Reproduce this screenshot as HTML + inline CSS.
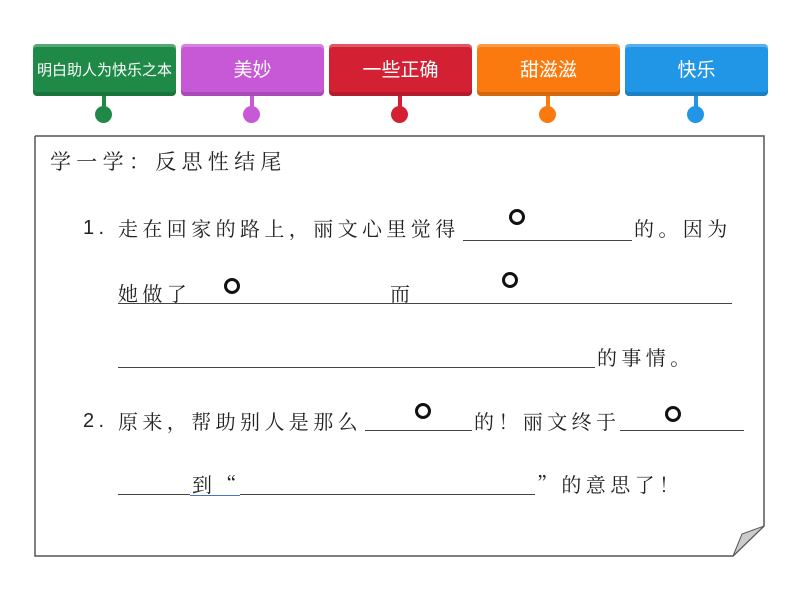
<!DOCTYPE html>
<html><head><meta charset="utf-8"><style>
body{margin:0;width:800px;height:600px;background:#fff;position:relative;overflow:hidden;font-family:"Noto Serif CJK SC","Liberation Serif",serif;}
.tab{position:absolute;top:44px;width:143px;height:52px;border-radius:4px;color:#fff;font-family:"Liberation Sans","Noto Sans CJK SC",sans-serif;font-size:19px;text-align:center;line-height:54px;box-shadow:inset 0 -4px 0 rgba(0,0,0,0.15),inset 0 3px 0 rgba(255,255,255,0.25);}
.stem{position:absolute;top:96px;width:4px;height:14px;}
.dot{position:absolute;top:106px;width:17px;height:17px;border-radius:50%;}
.t{position:absolute;font-size:20px;line-height:22px;letter-spacing:4.4px;color:#222;white-space:nowrap;font-family:"Noto Serif CJK SC",serif;}
.u{position:absolute;height:1px;background:#444;}
.c{position:absolute;width:10px;height:10px;border:3px solid #111;border-radius:50%;}
</style></head><body>
<div class="tab" style="left:33px;background:#1f8a48;font-size:15px;">明白助人为快乐之本</div>
<div class="tab" style="left:181px;background:#c759d6;">美妙</div>
<div class="tab" style="left:329px;background:#d42033;">一些正确</div>
<div class="tab" style="left:477px;background:#fb7a0f;">甜滋滋</div>
<div class="tab" style="left:625px;background:#2196e6;">快乐</div>
<div class="stem" style="left:102px;background:#1f8a48"></div><div class="dot" style="left:95px;background:#1f8a48"></div>
<div class="stem" style="left:250px;background:#c759d6"></div><div class="dot" style="left:243px;background:#c759d6"></div>
<div class="stem" style="left:398px;background:#d42033"></div><div class="dot" style="left:391px;background:#d42033"></div>
<div class="stem" style="left:546px;background:#fb7a0f"></div><div class="dot" style="left:539px;background:#fb7a0f"></div>
<div class="stem" style="left:694px;background:#2196e6"></div><div class="dot" style="left:687px;background:#2196e6"></div>

<svg style="position:absolute;left:0;top:0" width="800" height="600">
<polyline points="35,136 764,136 764,526 733,556 35,556 35,136" fill="none" stroke="#555" stroke-width="1.5"/>
<polygon points="764,526 733,556 742,534" fill="#ccc" stroke="#555" stroke-width="1"/>
</svg>

<div class="t" style="left:50px;top:150px;font-size:21px;letter-spacing:5.3px">学一学：反思性结尾</div>

<div class="t" style="left:83px;top:217px;font-family:'Liberation Sans',sans-serif">1.</div>
<div class="t" style="left:118px;top:217px">走在回家的路上，丽文心里觉得</div>
<div class="u" style="left:463px;top:240px;width:169px"></div>
<div class="t" style="left:634px;top:217px">的。因为</div>
<div class="c" style="left:509px;top:209px"></div>

<div class="t" style="left:118px;top:282px">她做了</div>
<div class="t" style="left:390px;top:282px">而</div>
<div class="u" style="left:118px;top:303px;width:614px"></div>
<div class="c" style="left:224px;top:278px"></div>
<div class="c" style="left:502px;top:272px"></div>

<div class="u" style="left:118px;top:367px;width:477px"></div>
<div class="t" style="left:597px;top:346px">的事情。</div>

<div class="t" style="left:83px;top:410px;font-family:'Liberation Sans',sans-serif">2.</div>
<div class="t" style="left:118px;top:410px">原来，帮助别人是那么</div>
<div class="u" style="left:365px;top:430px;width:107px"></div>
<div class="t" style="left:474px;top:410px">的！丽文终于</div>
<div class="u" style="left:620px;top:430px;width:124px"></div>
<div class="c" style="left:415px;top:403px"></div>
<div class="c" style="left:665px;top:406px"></div>

<div class="u" style="left:118px;top:494px;width:72px"></div>
<div class="t" style="left:192px;top:473px">到“</div>
<div class="u" style="left:190px;top:495px;width:50px;background:#4a6fd0"></div>
<div class="u" style="left:240px;top:494px;width:295px"></div>
<div class="t" style="left:537px;top:473px">”的意思了！</div>
</body></html>
